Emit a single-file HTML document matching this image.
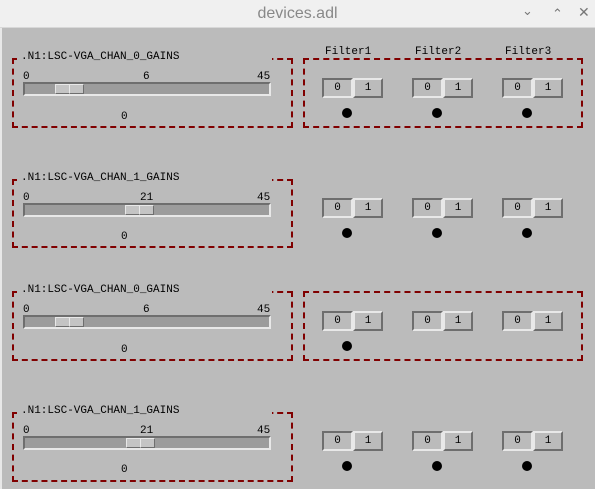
<!DOCTYPE html>
<html><head><meta charset="utf-8"><style>
*{margin:0;padding:0;box-sizing:border-box}
body{width:595px;height:489px;background:#bbbbbb;position:relative;overflow:hidden;font-family:"Liberation Mono",monospace;font-size:11px;color:#000}
.a{position:absolute}
.x{position:absolute;margin-top:3px}
.title{left:0;top:0;width:595px;height:28px;background:#f0f0f0;border-bottom:1px solid #d8d8d8}
.title .t{position:absolute;left:0;width:595px;top:5px;text-align:center;font-family:"Liberation Sans",sans-serif;font-size:16px;color:#888}
.lb{left:0;top:28px;width:2px;height:461px;background:#e8e8e8}
.box{border:2px dashed #800000}
.lbl{background:#bbbbbb;height:6px}
.trk{background:#9c9c9c;border-top:2px solid #6e6e6e;border-left:2px solid #6e6e6e;border-bottom:2px solid #e8e8e8;border-right:2px solid #e8e8e8}
.th{background:#c4c4c4;border-top:1px solid #e8e8e8;border-left:1px solid #e8e8e8;border-bottom:1px solid #6e6e6e;border-right:1px solid #6e6e6e}
.b0{width:31px;height:20px;background:#bbbbbb;border-top:2px solid #6e6e6e;border-left:2px solid #6e6e6e;border-bottom:2px solid #e8e8e8;border-right:2px solid #e8e8e8;text-align:center;line-height:16px}
.b1{width:30px;height:20px;background:#bbbbbb;border-top:2px solid #e8e8e8;border-left:2px solid #e8e8e8;border-bottom:2px solid #6e6e6e;border-right:2px solid #6e6e6e;text-align:center;line-height:16px}
.dot{width:10px;height:10px;border-radius:50%;background:#000}
</style></head><body>
<div class="a title"><div class="t">devices.adl</div>
<div class="a" style="left:522px;top:4px;font-family:'DejaVu Sans',sans-serif;font-size:13px;color:#777">⌄</div>
<div class="a" style="left:552px;top:7px;font-family:'DejaVu Sans',sans-serif;font-size:13px;color:#777">⌃</div>
<div class="a" style="left:578px;top:5px;font-family:'DejaVu Sans',sans-serif;font-size:14px;color:#777;font-weight:bold">✕</div>
</div>
<div class="a lb"></div>

<div class="x" style="left:325px;top:43px">Filter1</div>
<div class="x" style="left:415px;top:43px">Filter2</div>
<div class="x" style="left:505px;top:43px">Filter3</div>

<!-- Group 1 -->
<div class="a box" style="left:12px;top:58px;width:281px;height:70px"></div>
<div class="a lbl" style="left:17px;top:56px;width:255px"></div>
<div class="x" style="left:21px;top:48px">.N1:LSC-VGA_CHAN_0_GAINS</div>
<div class="x" style="left:23px;top:68px">0</div><div class="x" style="left:143px;top:68px">6</div><div class="x" style="left:257px;top:68px">45</div>
<div class="a trk" style="left:23px;top:82px;width:248px;height:14px"></div>
<div class="a th" style="left:55px;top:84px;width:15px;height:10px"></div><div class="a th" style="left:69px;top:84px;width:15px;height:10px"></div>
<div class="x" style="left:121px;top:108px">0</div>
<div class="a box" style="left:303px;top:58px;width:280px;height:70px"></div>

<!-- Group 2 -->
<div class="a box" style="left:12px;top:179px;width:281px;height:69px"></div>
<div class="a lbl" style="left:17px;top:177px;width:255px"></div>
<div class="x" style="left:21px;top:169px">.N1:LSC-VGA_CHAN_1_GAINS</div>
<div class="x" style="left:23px;top:189px">0</div><div class="x" style="left:140px;top:189px">21</div><div class="x" style="left:257px;top:189px">45</div>
<div class="a trk" style="left:23px;top:203px;width:248px;height:14px"></div>
<div class="a th" style="left:125px;top:205px;width:15px;height:10px"></div><div class="a th" style="left:139px;top:205px;width:15px;height:10px"></div>
<div class="x" style="left:121px;top:228px">0</div>

<!-- Group 3 -->
<div class="a box" style="left:12px;top:291px;width:281px;height:70px"></div>
<div class="a lbl" style="left:17px;top:289px;width:255px"></div>
<div class="x" style="left:21px;top:281px">.N1:LSC-VGA_CHAN_0_GAINS</div>
<div class="x" style="left:23px;top:301px">0</div><div class="x" style="left:143px;top:301px">6</div><div class="x" style="left:257px;top:301px">45</div>
<div class="a trk" style="left:23px;top:315px;width:248px;height:14px"></div>
<div class="a th" style="left:55px;top:317px;width:15px;height:10px"></div><div class="a th" style="left:69px;top:317px;width:15px;height:10px"></div>
<div class="x" style="left:121px;top:341px">0</div>
<div class="a box" style="left:303px;top:291px;width:280px;height:70px"></div>

<!-- Group 4 -->
<div class="a box" style="left:12px;top:412px;width:281px;height:70px"></div>
<div class="a lbl" style="left:17px;top:410px;width:255px"></div>
<div class="x" style="left:21px;top:402px">.N1:LSC-VGA_CHAN_1_GAINS</div>
<div class="x" style="left:23px;top:422px">0</div><div class="x" style="left:140px;top:422px">21</div><div class="x" style="left:257px;top:422px">45</div>
<div class="a trk" style="left:23px;top:436px;width:248px;height:14px"></div>
<div class="a th" style="left:126px;top:438px;width:15px;height:10px"></div><div class="a th" style="left:140px;top:438px;width:15px;height:10px"></div>
<div class="x" style="left:121px;top:461px">0</div>

<!-- Buttons -->
<div class="a b0" style="left:322px;top:78px">0</div><div class="a b1" style="left:353px;top:78px">1</div>
<div class="a b0" style="left:412px;top:78px">0</div><div class="a b1" style="left:443px;top:78px">1</div>
<div class="a b0" style="left:502px;top:78px">0</div><div class="a b1" style="left:533px;top:78px">1</div>
<div class="a dot" style="left:342px;top:108px"></div><div class="a dot" style="left:432px;top:108px"></div><div class="a dot" style="left:522px;top:108px"></div>

<div class="a b0" style="left:322px;top:198px">0</div><div class="a b1" style="left:353px;top:198px">1</div>
<div class="a b0" style="left:412px;top:198px">0</div><div class="a b1" style="left:443px;top:198px">1</div>
<div class="a b0" style="left:502px;top:198px">0</div><div class="a b1" style="left:533px;top:198px">1</div>
<div class="a dot" style="left:342px;top:228px"></div><div class="a dot" style="left:432px;top:228px"></div><div class="a dot" style="left:522px;top:228px"></div>

<div class="a b0" style="left:322px;top:311px">0</div><div class="a b1" style="left:353px;top:311px">1</div>
<div class="a b0" style="left:412px;top:311px">0</div><div class="a b1" style="left:443px;top:311px">1</div>
<div class="a b0" style="left:502px;top:311px">0</div><div class="a b1" style="left:533px;top:311px">1</div>
<div class="a dot" style="left:342px;top:341px"></div>

<div class="a b0" style="left:322px;top:431px">0</div><div class="a b1" style="left:353px;top:431px">1</div>
<div class="a b0" style="left:412px;top:431px">0</div><div class="a b1" style="left:443px;top:431px">1</div>
<div class="a b0" style="left:502px;top:431px">0</div><div class="a b1" style="left:533px;top:431px">1</div>
<div class="a dot" style="left:342px;top:461px"></div><div class="a dot" style="left:432px;top:461px"></div><div class="a dot" style="left:522px;top:461px"></div>
</body></html>
